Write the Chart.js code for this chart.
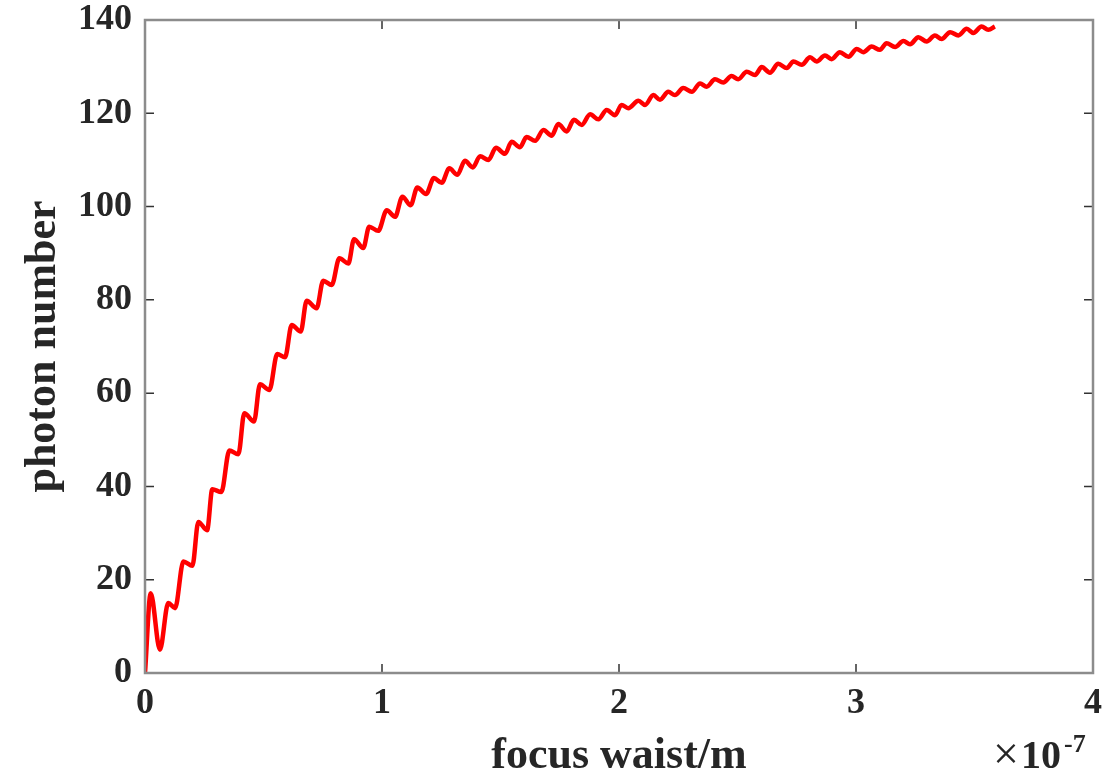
<!DOCTYPE html>
<html>
<head>
<meta charset="utf-8">
<script src="https://cdn.jsdelivr.net/npm/chart.js@4/dist/chart.umd.min.js"></script>
<style>
  html, body { margin: 0; padding: 0; background: #fff; }
  #wrap { width: 1109px; height: 775px; position: relative; }
</style>
</head>
<body>
<div id="wrap"><canvas id="photonChart"></canvas></div>
<script>
// focus waist (in units of 1e-7 m) and photon number
const waist = [
  0, 0.024, 0.063, 0.098, 0.127, 0.162, 0.200, 0.225, 0.262, 0.284,
  0.322, 0.356, 0.394, 0.419, 0.460, 0.485, 0.525, 0.558, 0.591, 0.619,
  0.657, 0.682, 0.724, 0.752, 0.788, 0.820, 0.858, 0.882, 0.921, 0.946,
  0.984, 1.020, 1.055, 1.086, 1.121, 1.149, 1.186, 1.219, 1.252, 1.284,
  1.318, 1.350, 1.383, 1.414, 1.449, 1.481, 1.519, 1.547, 1.582, 1.610,
  1.646, 1.681, 1.716, 1.744, 1.779, 1.810, 1.843, 1.878, 1.913, 1.948,
  1.983, 2.011, 2.039, 2.082, 2.110, 2.145, 2.173, 2.208, 2.236, 2.271,
  2.307, 2.342, 2.370, 2.405, 2.440, 2.475, 2.503, 2.539, 2.574, 2.602,
  2.637, 2.672, 2.708, 2.736, 2.771, 2.806, 2.834, 2.869, 2.897, 2.932,
  2.968, 3.003, 3.031, 3.066, 3.101, 3.129, 3.165, 3.200, 3.228, 3.263,
  3.298, 3.333, 3.361, 3.397, 3.432, 3.467, 3.495, 3.530, 3.558, 3.586
];
const photons = [
  0, 17.1, 5.0, 15.0, 13.9, 23.9, 23.0, 32.4, 30.6, 39.4,
  38.8, 47.7, 46.9, 55.7, 53.9, 61.9, 60.7, 68.4, 67.7, 74.6,
  73.2, 79.8, 78.2, 84.1, 83.2, 88.9, 87.8, 93.0, 91.1, 95.7,
  94.8, 99.2, 97.8, 102.1, 100.3, 104.1, 102.7, 106.1, 105.1, 108.2,
  106.8, 109.8, 108.4, 110.8, 110.0, 112.6, 111.3, 113.9, 112.7, 114.9,
  114.1, 116.4, 115.2, 117.7, 116.1, 118.6, 117.5, 119.8, 118.7, 120.7,
  119.6, 121.8, 121.1, 122.7, 121.8, 123.9, 122.9, 124.6, 123.9, 125.4,
  124.6, 126.4, 125.7, 127.3, 126.6, 128.0, 127.3, 128.9, 128.2, 129.9,
  128.7, 130.6, 129.7, 131.1, 130.4, 132.0, 131.1, 132.4, 131.6, 133.1,
  132.1, 133.8, 133.1, 134.3, 133.6, 135.0, 134.2, 135.5, 134.8, 136.3,
  135.4, 136.7, 135.9, 137.4, 136.7, 138.1, 137.2, 138.6, 137.9, 138.6
];
const xTicks = [0, 1, 2, 3, 4];
const yTicks = [0, 20, 40, 60, 80, 100, 120, 140];

const serif = '"Liberation Serif", "Times New Roman", serif';
const textColor = '#262626';

// MATLAB-like box with inward ticks on all four sides, plus the x10^-7 multiplier
const boxPlugin = {
  id: 'matlabBox',
  afterDatasetsDraw(chart) {
    const {ctx, chartArea: a, scales: {x, y}} = chart;
    ctx.save();
    ctx.strokeStyle = '#333';
    ctx.lineWidth = 1.5;
    const tl = 9;
    ctx.beginPath();
    xTicks.forEach(v => {
      const px = x.getPixelForValue(v);
      ctx.moveTo(px, a.bottom); ctx.lineTo(px, a.bottom - tl);
      ctx.moveTo(px, a.top); ctx.lineTo(px, a.top + tl);
    });
    yTicks.forEach(v => {
      const py = y.getPixelForValue(v);
      ctx.moveTo(a.left, py); ctx.lineTo(a.left + tl, py);
      ctx.moveTo(a.right, py); ctx.lineTo(a.right - tl, py);
    });
    ctx.stroke();
    ctx.strokeStyle = '#8c8c8c';
    ctx.lineWidth = 2.5;
    ctx.strokeRect(a.left, a.top, a.right - a.left, a.bottom - a.top);

    // exponent label
    ctx.fillStyle = textColor;
    ctx.textBaseline = 'alphabetic';
    ctx.textAlign = 'left';
    ctx.font = '46px ' + serif;
    ctx.fillText('\u00d7', 993, 769);
    ctx.font = 'bold 40px ' + serif;
    ctx.fillText('10', 1021, 768);
    ctx.font = 'bold 26px ' + serif;
    ctx.fillText('-7', 1064, 752);
    ctx.restore();
  }
};

function initPhotonChart() {
  const ctx = document.getElementById('photonChart').getContext('2d');
  const points = waist.map((w, i) => ({x: w, y: photons[i]}));

  new Chart(ctx, {
    type: 'line',
    data: {
      datasets: [{
        data: points,
        borderColor: '#ff0000',
        borderWidth: 4.5,
        pointRadius: 0,
        fill: false,
        cubicInterpolationMode: 'monotone'
      }]
    },
    options: {
      responsive: true,
      maintainAspectRatio: false,
      animation: false,
      layout: { padding: { left: 0, top: 20, right: 16, bottom: 0 } },
      plugins: {
        legend: { display: false },
        tooltip: { enabled: false }
      },
      scales: {
        x: {
          type: 'linear',
          min: 0,
          max: 4,
          afterFit: s => { s.height = 102; s.paddingLeft = 0; s.paddingRight = 0; },
          afterBuildTicks: s => { s.ticks = xTicks.map(v => ({value: v})); },
          grid: { display: false, drawTicks: false },
          border: { display: false },
          ticks: {
            padding: 9,
            color: textColor,
            font: { family: serif, size: 36, weight: 'bold' }
          },
          title: {
            display: true,
            text: 'focus waist/m',
            color: textColor,
            padding: { top: 0, bottom: -8 },
            font: { family: serif, size: 44, weight: 'bold' }
          }
        },
        y: {
          min: 0,
          max: 140,
          afterFit: s => { s.width = 145; s.paddingTop = 0; s.paddingBottom = 0; },
          afterBuildTicks: s => { s.ticks = yTicks.map(v => ({value: v})); },
          grid: { display: false, drawTicks: false },
          border: { display: false },
          ticks: {
            padding: 13,
            color: textColor,
            font: { family: serif, size: 36, weight: 'bold' }
          },
          title: {
            display: true,
            text: 'photon number',
            color: textColor,
            padding: { top: 17, bottom: 0 },
            font: { family: serif, size: 44, weight: 'bold' }
          }
        }
      }
    },
    plugins: [boxPlugin]
  });
}

document.addEventListener('DOMContentLoaded', initPhotonChart);
</script>
</body>
</html>
